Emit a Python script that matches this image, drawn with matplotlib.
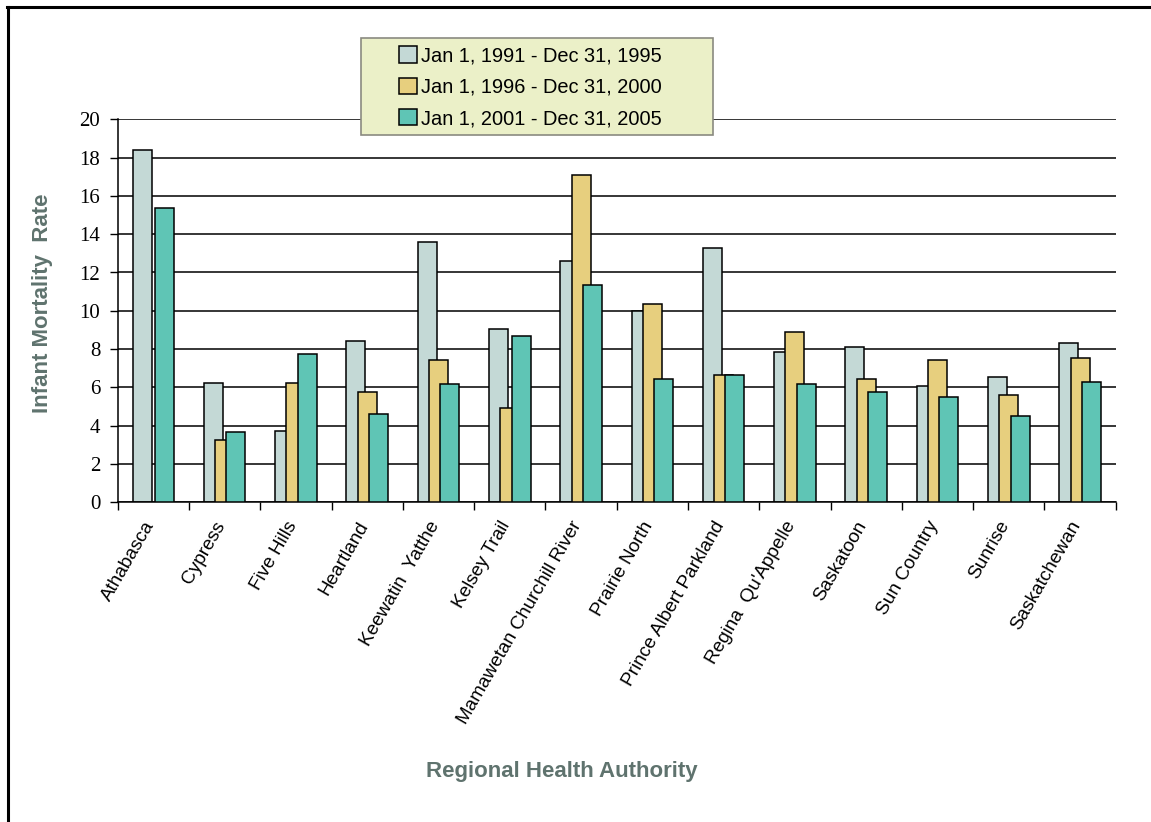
import numpy as np
import matplotlib
matplotlib.use("Agg")
import matplotlib.pyplot as plt
import matplotlib.transforms as mtransforms
from matplotlib.patches import Rectangle
from matplotlib.lines import Line2D

regions = ["Athabasca", "Cypress", "Five Hills", "Heartland", "Keewatin  Yatthe",
           "Kelsey Trail", "Mamawetan Churchill River", "Prairie North",
           "Prince Albert Parkland", "Regina  Qu'Appelle", "Saskatoon",
           "Sun Country", "Sunrise", "Saskatchewan"]
series_labels = ["Jan 1, 1991 - Dec 31, 1995",
                 "Jan 1, 1996 - Dec 31, 2000",
                 "Jan 1, 2001 - Dec 31, 2005"]
rate_1991_1995 = [18.4, 6.25, 3.7, 8.4, 13.6, 9.07, 12.6, 9.97, 13.26, 7.83, 8.09, 6.06, 6.53, 8.3]
rate_1996_2000 = [np.nan, 3.24, 6.25, 5.76, 7.42, 4.91, 17.08, 10.34, 6.63, 8.88, 6.44, 7.42, 5.59, 7.52]
rate_2001_2005 = [15.35, 3.69, 7.73, 4.6, 6.16, 8.68, 11.33, 6.44, 6.63, 6.16, 5.78, 5.48, 4.49, 6.27]
yticks = [0, 2, 4, 6, 8, 10, 12, 14, 16, 18, 20]

colors = ["#c4d9d6", "#e7cf7e", "#5fc5b5"]
title_color = "#5f736e"

W, H = 1151, 822
fig = plt.figure(figsize=(W / 100, H / 100), dpi=100)
fig.patch.set_facecolor("white")

def fx(px):
    return px / W

def fy(py):
    return 1 - py / H

ax = fig.add_axes([fx(117.7), fy(502.3), fx(1115.7) - fx(117.7), fy(119.3) - fy(502.3)])

x = np.arange(len(regions))
bw = 0.266
step = 0.158
handles = []
for i, (vals, c) in enumerate(zip([rate_1991_1995, rate_1996_2000, rate_2001_2005], colors)):
    b = ax.bar(x + (i - 1) * step, vals, width=bw, color=c, edgecolor="black",
               linewidth=1.1, zorder=2 + i)
    handles.append(b)

ax.set_xlim(-0.5, len(regions) - 0.5)
ax.set_ylim(0, 20)
ax.set_yticks(yticks)
ax.yaxis.grid(True, color="black", linewidth=1.1)
ax.set_axisbelow(True)
for s in ["top", "right"]:
    ax.spines[s].set_visible(False)
for s in ["left", "bottom"]:
    ax.spines[s].set_linewidth(1.1)
    ax.spines[s].set_color("black")

ax.tick_params(axis="y", length=5.5, width=1.0, pad=7.0, labelsize=15)
for t in ax.get_yticklabels():
    t.set_fontfamily("Liberation Serif")

ax.set_xticks(x)
ax.set_xticklabels(regions, rotation=60, ha="right", va="center", rotation_mode="anchor",
                   fontsize=13.7, fontfamily="Liberation Sans")
ax.tick_params(axis="x", which="major", length=0, pad=14.5)
shift = mtransforms.ScaledTranslation(-3 / 100, 0, fig.dpi_scale_trans)
for t in ax.get_xticklabels():
    t.set_transform(t.get_transform() + shift)
ax.set_xticks(np.arange(len(regions) + 1) - 0.5, minor=True)
ax.tick_params(axis="x", which="minor", length=5.5, width=1.0, direction="out")

fig.text(fx(43), fy(303), "Infant Mortality  Rate", rotation=90, ha="center", va="center",
         fontsize=16, fontweight="bold", color=title_color, fontfamily="Liberation Sans")
fig.text(fx(562), fy(771), "Regional Health Authority", ha="center", va="center",
         fontsize=16, fontweight="bold", color=title_color, fontfamily="Liberation Sans")

# legend box
fig.patches.append(Rectangle((fx(361), fy(135.3)), fx(712.7) - fx(361), fy(38.3) - fy(135.3),
                             transform=fig.transFigure, facecolor="#ebf0c8",
                             edgecolor="#8a8a80", linewidth=1.2, zorder=10))
leg = fig.legend(handles, series_labels, loc="upper left",
                 bbox_to_anchor=(fx(399), fy(46.5)), frameon=False, borderpad=0,
                 borderaxespad=0, handlelength=0.9, handleheight=0.9, handletextpad=0.2,
                 labelspacing=0.6, prop={"family": "Liberation Sans", "size": 14.4})
leg.set_zorder(11)

# outer frame
fig.add_artist(Line2D([fx(8.3), fx(8.3)], [fy(7), 0], transform=fig.transFigure,
                      color="black", linewidth=2.2))
fig.add_artist(Line2D([fx(7.3), 1], [fy(7.3), fy(7.3)], transform=fig.transFigure,
                      color="black", linewidth=2.2))

fig.savefig("out.png", dpi=100)
